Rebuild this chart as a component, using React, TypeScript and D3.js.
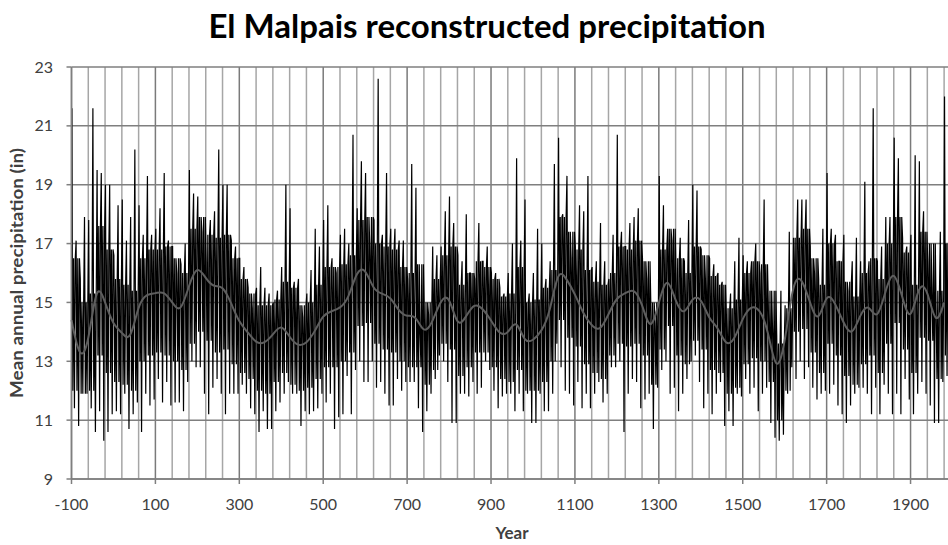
import React from 'react';
import * as d3 from 'd3';

// reconstructed precipitation in 10-year bins (first bin starts at -100)
const binStart = -100;
const binSize = 10;
const highs = [
  21.6, 17.1, 15.8, 17.9, 17.8, 21.6, 19.5, 19.4, 19.0, 19.0,
  16.6, 18.3, 18.5, 17.1, 17.9, 20.2, 18.3, 17.3, 19.3, 17.3,
  17.5, 18.2, 19.4, 17.1, 16.9, 16.0, 16.3, 17.0, 19.5, 18.7,
  18.6, 17.4, 16.4, 17.8, 18.1, 20.2, 19.0, 19.0, 17.1, 16.9,
  16.5, 16.2, 15.5, 14.8, 15.5, 16.2, 15.5, 15.3, 15.0, 15.4,
  16.2, 19.0, 18.2, 15.7, 15.8, 14.5, 15.3, 16.1, 17.5, 16.9,
  17.8, 18.3, 16.5, 16.0, 17.3, 17.5, 17.0, 20.7, 18.2, 19.8,
  19.4, 16.9, 17.8, 22.6, 17.3, 19.4, 17.5, 17.5, 17.1, 17.1,
  15.8, 19.7, 18.9, 13.9, 14.6, 14.6, 16.9, 16.6, 16.9, 18.1,
  18.6, 17.7, 16.6, 16.4, 18.0, 16.0, 15.8, 17.7, 16.4, 16.9,
  16.0, 16.0, 15.5, 15.3, 16.0, 17.0, 19.9, 17.1, 18.5, 15.3,
  16.0, 17.5, 17.0, 15.8, 16.4, 19.7, 20.6, 18.0, 19.3, 16.5,
  16.9, 18.3, 18.1, 19.3, 16.2, 16.4, 17.7, 16.4, 15.8, 17.3,
  20.7, 17.4, 16.9, 17.7, 17.9, 18.2, 16.5, 15.8, 14.9, 14.3,
  19.3, 18.3, 17.5, 17.1, 16.0, 17.2, 16.4, 17.8, 19.0, 18.8,
  16.8, 15.8, 16.5, 16.3, 16.0, 15.7, 14.6, 15.3, 16.4, 17.2,
  16.6, 16.4, 16.4, 17.0, 16.0, 18.5, 14.9, 14.1, 13.9, 15.4,
  14.9, 17.4, 17.2, 18.5, 18.5, 18.5, 16.9, 16.0, 15.8, 17.5,
  19.4, 17.5, 17.3, 16.4, 17.3, 15.4, 16.4, 17.2, 16.4, 19.1,
  16.4, 21.6, 16.4, 16.9, 17.9, 17.9, 20.6, 19.9, 17.2, 16.9,
  17.3, 20.0, 19.8, 18.1, 16.4, 15.3, 14.6, 17.4, 22.0,
];
const lows = [
  11.4, 10.8, 11.9, 11.9, 11.4, 10.6, 11.3, 10.3, 10.6, 11.2,
  11.3, 11.2, 11.9, 10.7, 11.2, 11.6, 10.6, 11.9, 11.5, 11.7,
  12.4, 11.6, 12.3, 11.5, 11.6, 11.6, 11.3, 12.3, 13.0, 12.8,
  12.8, 11.9, 11.2, 12.1, 12.4, 11.9, 11.2, 11.9, 11.9, 11.9,
  12.2, 11.9, 11.4, 11.2, 10.6, 11.3, 10.7, 10.7, 11.3, 11.6,
  11.9, 12.3, 11.9, 11.9, 10.8, 11.3, 11.2, 11.3, 11.4, 11.9,
  11.6, 11.9, 10.7, 11.1, 11.2, 12.5, 11.2, 12.7, 13.0, 12.3,
  12.3, 13.0, 12.1, 12.3, 11.9, 11.5, 11.5, 12.4, 12.0, 12.3,
  12.3, 12.3, 11.4, 10.6, 11.3, 11.9, 12.4, 13.2, 13.0, 12.3,
  10.9, 10.9, 11.9, 11.9, 11.8, 12.3, 11.9, 12.1, 13.0, 12.7,
  12.0, 11.4, 11.8, 11.9, 11.9, 11.3, 11.9, 11.3, 11.9, 10.9,
  10.9, 11.9, 11.3, 11.3, 11.9, 13.6, 12.8, 12.0, 11.9, 11.5,
  12.3, 11.4, 11.9, 11.4, 11.9, 12.3, 11.6, 11.9, 12.8, 12.8,
  13.0, 10.6, 11.9, 12.4, 12.3, 11.4, 11.7, 11.9, 10.7, 12.1,
  12.7, 13.0, 11.9, 12.1, 11.3, 11.9, 12.4, 13.0, 13.2, 12.3,
  11.4, 11.9, 11.2, 11.9, 12.3, 10.8, 11.3, 10.8, 11.9, 11.8,
  12.4, 11.9, 12.1, 11.3, 11.9, 12.1, 10.9, 10.4, 10.3, 10.5,
  11.9, 12.8, 12.4, 13.0, 12.4, 12.8, 12.1, 11.7, 11.9, 12.0,
  11.9, 12.2, 11.5, 11.2, 10.9, 11.5, 11.9, 12.1, 12.1, 11.9,
  11.2, 12.1, 11.2, 12.2, 11.9, 11.2, 11.9, 11.2, 12.4, 11.7,
  11.2, 11.9, 12.3, 11.9, 11.5, 10.9, 10.9, 12.3, 12.5,
];

// the grey smoothed line and the edges of the solid black core, one value every 20 years from -100
const meanStart = -100;
const meanStep = 20;
const means = [
  14.4, 13.0, 13.5, 15.8, 15.0, 14.2, 14.0, 13.6, 15.0, 15.3,
  15.3, 15.4, 15.0, 14.6, 15.6, 16.3, 15.8, 15.5, 15.6, 15.0,
  14.3, 14.0, 13.6, 13.6, 13.9, 14.3, 13.8, 13.5, 13.6, 14.0,
  14.6, 14.7, 14.8, 15.1, 16.1, 16.2, 15.4, 15.3, 15.2, 14.7,
  14.5, 14.6, 13.9, 14.3, 15.1, 15.3, 14.1, 14.5, 15.0, 14.8,
  14.4, 13.9, 13.9, 14.5, 13.6, 13.7, 14.0, 14.6, 16.2, 15.8,
  15.3, 14.6, 14.2, 14.0, 14.6, 15.2, 15.3, 15.5, 15.0, 13.9,
  15.0, 16.0, 15.0, 14.5, 15.2, 15.2, 14.4, 14.2, 13.5, 13.7,
  14.5, 14.9, 14.8, 14.1, 12.5, 13.5, 15.8, 15.9, 15.0, 14.2,
  15.4, 15.0, 14.3, 13.8, 14.6, 15.0, 14.3, 15.4, 16.2, 15.2,
  14.2, 15.7, 15.5, 14.1, 15.0,
];
const coreHigh = [
  16.5, 15.0, 15.3, 17.6, 16.8, 15.8, 15.6, 15.4, 16.5, 16.8,
  16.8, 16.9, 16.5, 16.0, 17.5, 17.9, 17.3, 17.2, 17.3, 16.5,
  15.8, 15.3, 14.9, 14.9, 15.1, 15.7, 15.5, 14.9, 15.0, 15.6,
  16.2, 16.2, 16.3, 16.6, 17.8, 17.9, 17.0, 16.9, 16.8, 16.2,
  16.0, 16.3, 15.0, 15.8, 16.6, 16.9, 15.6, 16.0, 16.4, 16.2,
  15.8, 15.2, 15.3, 16.2, 15.0, 15.1, 15.5, 16.1, 17.9, 17.4,
  16.8, 16.1, 15.7, 15.6, 16.0, 16.9, 16.8, 17.1, 16.4, 15.0,
  16.8, 17.5, 16.5, 16.0, 16.9, 16.6, 15.9, 15.6, 14.8, 15.1,
  16.0, 16.4, 16.3, 15.4, 13.6, 14.8, 17.2, 17.5, 16.5, 15.6,
  17.0, 16.4, 15.7, 15.2, 16.0, 16.5, 15.8, 17.0, 17.9, 16.7,
  15.6, 17.4, 17.0, 15.4, 17.0,
];
const coreLow = [
  12.0, 11.9, 12.0, 13.2, 12.6, 12.3, 12.2, 12.0, 13.0, 13.2,
  13.3, 13.2, 13.0, 12.7, 13.6, 14.0, 13.7, 13.3, 13.4, 12.9,
  12.6, 12.4, 12.0, 11.9, 12.3, 12.6, 12.2, 12.0, 12.1, 12.4,
  12.8, 12.8, 13.0, 13.3, 14.2, 14.3, 13.6, 13.4, 13.3, 13.0,
  12.8, 12.8, 12.2, 12.7, 13.6, 13.4, 12.5, 12.8, 13.3, 13.3,
  12.8, 12.4, 12.3, 12.7, 12.0, 12.0, 12.3, 13.0, 14.4, 13.8,
  13.5, 12.9, 12.6, 12.4, 13.2, 13.6, 13.5, 13.6, 13.2, 12.2,
  13.4, 14.2, 13.2, 12.9, 13.7, 13.4, 12.7, 12.6, 11.9, 12.1,
  12.9, 13.1, 13.0, 12.3, 11.0, 12.0, 14.0, 14.1, 13.3, 12.6,
  13.6, 13.2, 12.5, 12.2, 12.9, 13.2, 12.6, 13.6, 14.3, 13.4,
  12.6, 13.8, 13.7, 12.4, 13.2,
];

const yTicks = [9, 11, 13, 15, 17, 19, 21, 23];
const xLabels = [-100, 100, 300, 500, 700, 900, 1100, 1300, 1500, 1700, 1900];
const xGrid = d3.range(-100, 2000, 40);

const W = 948;
const H = 545;
const font = 'Lato, "Open Sans", sans-serif';

const App = () => {
  const x = d3.scaleLinear().domain([-100, 2000]).range([71.5, 952.5]);
  const y = d3.scaleLinear().domain([9, 23]).range([479, 67]);

  // each bin: spike up, into the core, across it, spike down, back into the core
  const pts: [number, number][] = [];
  highs.forEach((h, i) => {
    const yr = binStart + i * binSize;
    const k = Math.floor((yr - meanStart) / meanStep);
    pts.push([yr + 1, h]);
    pts.push([yr + 3, coreLow[k]]);
    pts.push([yr + 5, coreHigh[k]]);
    pts.push([yr + 7, lows[i]]);
    pts.push([yr + 9, coreHigh[k]]);
  });
  const line = d3.line<[number, number]>()
    .x(d => x(d[0]))
    .y(d => y(d[1]));

  const meanPts: [number, number][] = means.map((m, i) => [meanStart + i * meanStep, m]);
  const smooth = d3.line<[number, number]>()
    .x(d => x(d[0]))
    .y(d => y(d[1]))
    .curve(d3.curveBasis);

  return (
    <svg width={W} height={H} style={{ position: 'absolute', left: 0, top: 0, background: '#fff' }}>
      <text x={487} y={38} textAnchor="middle" fontFamily={font} fontWeight="bold" fontSize={33} fill="#000">
        El Malpais reconstructed precipitation
      </text>

      {/* grid */}
      {xGrid.map(v => (
        <line key={'gx' + v} x1={x(v)} x2={x(v)} y1={y(23)} y2={y(9)}
          stroke={(v + 100) % 200 === 0 ? '#7a7a7a' : '#a6a6a6'} strokeWidth={1.5} />
      ))}
      {yTicks.map(v => (
        <line key={'gy' + v} x1={x(-100)} x2={W} y1={y(v)} y2={y(v)} stroke="#7f7f7f" strokeWidth={1.5} />
      ))}

      <path d={line(pts) ?? ''} fill="none" stroke="#000" strokeWidth={1.2} />
      <path d={smooth(meanPts) ?? ''} fill="none" stroke="#5e5e5e" strokeWidth={2} />

      {/* axes */}
      <line x1={x(-100)} x2={x(-100)} y1={y(23)} y2={y(9)} stroke="#7f7f7f" strokeWidth={1.5} />
      <line x1={x(-100)} x2={W} y1={y(9)} y2={y(9)} stroke="#7f7f7f" strokeWidth={1.5} />
      {yTicks.map(v => (
        <g key={'ty' + v}>
          <line x1={x(-100) - 5} x2={x(-100)} y1={y(v)} y2={y(v)} stroke="#7f7f7f" strokeWidth={1.5} />
          <text x={53} y={y(v)} dy="0.35em" textAnchor="end" fontFamily={font} fontSize={16} fill="#404040">{v}</text>
        </g>
      ))}
      {xLabels.map(v => (
        <g key={'tx' + v}>
          <line x1={x(v)} x2={x(v)} y1={y(9)} y2={y(9) + 5} stroke="#7f7f7f" strokeWidth={1.5} />
          <text x={x(v)} y={510} textAnchor="middle" fontFamily={font} fontSize={16} fill="#404040">{v}</text>
        </g>
      ))}

      <text x={512} y={539} textAnchor="middle" fontFamily={font} fontWeight="bold" fontSize={17} fill="#404040">Year</text>
      <text transform={`translate(23,${(y(9) + y(23)) / 2}) rotate(-90)`} textAnchor="middle"
        fontFamily={font} fontWeight="bold" fontSize={16.5} textLength={250} lengthAdjust="spacingAndGlyphs" fill="#404040">
        Mean annual precipitation (in)
      </text>
    </svg>
  );
};

export default App;
